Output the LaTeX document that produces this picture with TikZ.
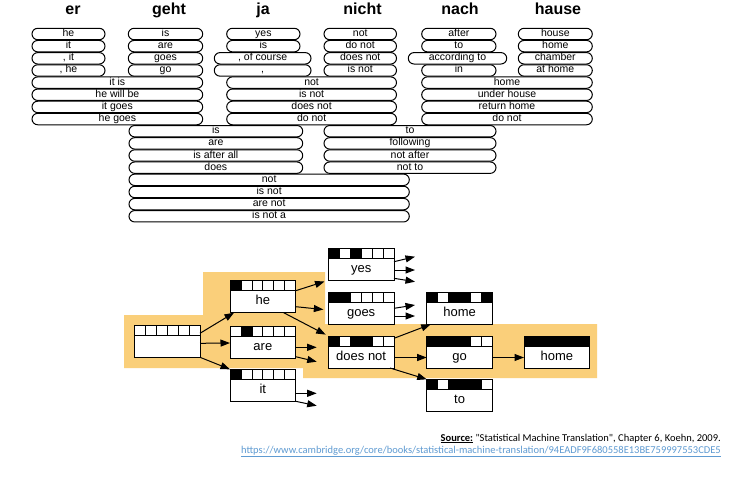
\documentclass[tikz,border=0pt]{standalone}
\usepackage{fontspec}
\setmainfont{Liberation Sans}
\newfontfamily\calib{Carlito}
\usetikzlibrary{arrows.meta,calc}
\definecolor{hl}{RGB}{250,207,122}
\definecolor{linkblue}{RGB}{95,155,210}
\tikzset{
 pbox/.style={draw, line width=1pt, rounded corners=5.7pt, minimum height=11.4pt, inner sep=0pt, text height=7pt, text depth=2pt, font=\fontsize{10.5}{10.5}\selectfont, fill=white},
 hdr/.style={font=\bfseries\fontsize{16}{16}\selectfont, anchor=base, inner sep=0pt},
 hbox/.style={draw, line width=1pt, fill=white, minimum width=65.7pt, minimum height=32pt, inner sep=0pt, outer sep=0pt},
 htext/.style={font=\fontsize{13}{13}\selectfont, inner sep=0pt, text height=9pt, text depth=3pt},
 arr/.style={-{Triangle[length=9.5pt,width=7pt]}, line width=1pt},
 srcfont/.style={font=\calib\fontsize{10.5}{10.5}\selectfont, inner sep=0pt, anchor=base east},
}
\newcommand\pb[5]{\node[pbox, minimum width={(#3-#2)*1pt}] (#1) at ({(#2+#3)/2},{34+12.15*(#4-1)}) {#5};}
\newcommand\hyp[5]{%
 \node[hbox, anchor=north west] (#1) at (#2,#3) {};
 \foreach \c in {#5}{\ifnum\c>0 \fill ({#2+(\c-1)*10.95},#3) rectangle ++(10.95,10);\fi}
 \foreach \c in {1,...,5}{\draw[line width=0.8pt] ({#2+\c*10.95},#3) -- ++(0,10);}
 \draw[line width=1pt] (#2,{#3+10}) -- ++(65.7,0);
 \node[htext] (#1t) at ({#2+32.85},{#3+21}) {#4};
}
\begin{document}
\begin{tikzpicture}[x=1pt,y=-1pt]
\useasboundingbox[fill=white] (0,0) rectangle (735,485);
% headers
\node[hdr] (h1) at (73,14) {er};
\node[hdr] (h2) at (169,14) {geht};
\node[hdr] (h3) at (263,14) {ja};
\node[hdr] (h4) at (362.5,14) {nicht};
\node[hdr] (h5) at (460,14) {nach};
\node[hdr] (h6) at (558,14) {hause};
% single-word rows
\pb{a1}{32}{105}{1}{he}
\pb{a2}{32}{105}{2}{it}
\pb{a3}{32}{105}{3}{, it}
\pb{a4}{32}{105}{4}{, he}
\pb{b1}{128.3}{202.7}{1}{is}
\pb{b2}{128.3}{202.7}{2}{are}
\pb{b3}{128.3}{202.7}{3}{goes}
\pb{b4}{128.3}{202.7}{4}{go}
\pb{c1}{226.7}{300}{1}{yes}
\pb{c2}{226.7}{300}{2}{is}
\pb{c3}{214.3}{311}{3}{, of course}
\pb{c4}{214.3}{311}{4}{,}
\pb{d1}{324}{396.5}{1}{not}
\pb{d2}{324}{396.5}{2}{do not}
\pb{d3}{324}{396.5}{3}{does not}
\pb{d4}{324}{396.5}{4}{is not}
\pb{e1}{421.7}{496}{1}{after}
\pb{e2}{421.7}{496}{2}{to}
\pb{e3}{408.3}{506.7}{3}{according to}
\pb{e4}{421.7}{496}{4}{in}
\pb{f1}{518.3}{592.3}{1}{house}
\pb{f2}{518.3}{592.3}{2}{home}
\pb{f3}{518.3}{592.3}{3}{chamber}
\pb{f4}{518.3}{592.3}{4}{at home}
% two-word rows
\pb{g1}{32}{202.7}{5}{it is}
\pb{g2}{32}{202.7}{6}{he will be}
\pb{g3}{32}{202.7}{7}{it goes}
\pb{g4}{32}{202.7}{8}{he goes}
\pb{h1b}{226.7}{396.5}{5}{not}
\pb{h2b}{226.7}{396.5}{6}{is not}
\pb{h3b}{226.7}{396.5}{7}{does not}
\pb{h4b}{226.7}{396.5}{8}{do not}
\pb{i1}{421.7}{592.3}{5}{home}
\pb{i2}{421.7}{592.3}{6}{under house}
\pb{i3}{421.7}{592.3}{7}{return home}
\pb{i4}{421.7}{592.3}{8}{do not}
\pb{j1}{129}{302.7}{9}{is}
\pb{j2}{129}{302.7}{10}{are}
\pb{j3}{129}{302.7}{11}{is after all}
\pb{j4}{129}{302.7}{12}{does}
\pb{k1}{324}{496}{9}{to}
\pb{k2}{324}{496}{10}{following}
\pb{k3}{324}{496}{11}{not after}
\pb{k4}{324}{496}{12}{not to}
% three-word rows
\pb{l1}{129}{409.3}{13}{not}
\pb{l2}{129}{409.3}{14}{is not}
\pb{l3}{129}{409.3}{15}{are not}
\pb{l4}{129}{409.3}{16}{is not a}
% highlight
\fill[hl] (124,315) -- (203,315) -- (203,272) -- (325,272) -- (325,324) -- (597,324) -- (597,378) -- (303,378) -- (303,368) -- (124,368) -- cycle;
% hypotheses
\hyp{e}{134.3}{325.3}{}{0}
\hyp{he}{230}{280.7}{he}{1}
\hyp{are}{230}{326}{are}{2}
\hyp{it}{230}{369.3}{it}{1}
\hyp{yes}{328.3}{248.3}{yes}{1,3}
\hyp{goes}{328.3}{292.3}{goes}{1,2}
\hyp{dn}{328.3}{336}{does not}{1,3,4}
\hyp{hm}{426.7}{292.3}{home}{1,3,4,6}
\hyp{go}{426.7}{336}{go}{1,2,3,4}
\hyp{to}{426.7}{379.3}{to}{1,3,4,5}
\hyp{hm2}{524}{336}{home}{1,2,3,4,5,6}
% dangling ends
\coordinate (ar1) at (316.7,347.3);
\coordinate (ar2) at (316.7,361.7);
\coordinate (it1) at (316.7,393.3);
\coordinate (it2) at (316.7,405.7);
\coordinate (ye1) at (415,256.7);
\coordinate (ye2) at (415,270);
\coordinate (ye3) at (415,281.7);
\coordinate (go1) at (415,305);
\coordinate (go2) at (415,316);
% arrows
\draw[arr] ([yshift=-8pt]e.north east) -- ([xshift=4pt]he.south west);
\draw[arr] ([yshift=-2pt]e.east) -- ([yshift=-1pt]are.west);
\draw[arr] (e.south east) -- (it.north west);
\draw[arr, shorten >=4pt] ([yshift=-10pt]he.north east) -- (yes.south west);
\draw[arr, shorten >=5pt] ([yshift=-26pt]he.north east) -- ([yshift=-17.7pt]goes.north west);
\draw[arr, shorten >=3pt] ([xshift=-12pt]he.south east) -- (dn.north west);
\draw[arr] ([yshift=-21.3pt]are.north east) -- (ar1);
\draw[arr] ([yshift=-30.7pt]are.north east) -- (ar2);
\draw[arr] ([yshift=-24pt]it.north east) -- (it1);
\draw[arr] (it.south east) -- (it2);
\draw[arr] ([yshift=-13.4pt]yes.north east) -- (ye1);
\draw[arr] ([yshift=-21.7pt]yes.north east) -- (ye2);
\draw[arr] ([yshift=-30pt]yes.north east) -- (ye3);
\draw[arr] ([yshift=-16pt]goes.north east) -- (go1);
\draw[arr] ([yshift=-23.7pt]goes.north east) -- (go2);
\draw[arr] ([yshift=-2.3pt]dn.north east) -- ([xshift=4pt]hm.south west);
\draw[arr] ([yshift=-21.5pt]dn.north east) -- ([yshift=-21.5pt]go.north west);
\draw[arr] ([xshift=-4pt]dn.south east) -- (to.north west);
\draw[arr] ([yshift=-21.5pt]go.north east) -- ([yshift=-21.5pt]hm2.north west);
% source
\node[srcfont] (src) at (721,441) {\textbf{\underline{Source:}} "Statistical Machine Translation", Chapter 6, Koehn, 2009.};
\node[srcfont, text=linkblue] (url) at (721,453) {\underline{https://www.cambridge.org/core/books/statistical-machine-translation/94EADF9F680558E13BE759997553CDE5}};
\end{tikzpicture}
\end{document}
